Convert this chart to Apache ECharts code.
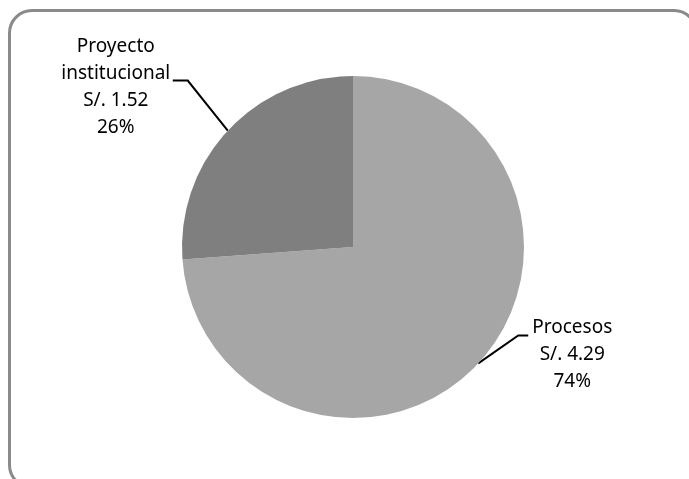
<!DOCTYPE html>
<html>
<head>
<meta charset="utf-8">
<script src="https://cdn.jsdelivr.net/npm/echarts@6/dist/echarts.min.js"></script>
<style>
  html, body { margin: 0; padding: 0; width: 689px; height: 479px; overflow: hidden; background: #fff; }
  .frame {
    position: absolute; left: 8px; top: 9px; width: 690px; height: 480px;
    border: 3px solid #8a8a8a; border-radius: 24px; box-sizing: border-box;
  }
  #chart { position: absolute; left: 0; top: 0; width: 689px; height: 479px; }
</style>
</head>
<body>
<div class="frame"></div>
<div id="chart"></div>
<script>
// 数据
const categories = ['Procesos', 'Proyecto\ninstitucional']
const amounts = [4.29, 1.52]
const sliceColors = ['#a6a6a6', '#7f7f7f']

// 引导线偏移 (相对于扇区边缘点)
const leaderBend = [[40, -28], [-40, -50]]
const leaderTail = [[10, 0], [-15, 0]]
const labelShift = [[44, -21], [-57, -47]]

const chart = echarts.init(document.getElementById('chart'))

const option = {
  animation: false,
  series: [
    {
      type: 'pie',
      center: [353, 247],
      radius: 171,
      startAngle: 90,
      clockwise: true,
      avoidLabelOverlap: false,
      silent: true,
      data: categories.map((name, i) => ({
        name: name,
        value: amounts[i],
        itemStyle: { color: sliceColors[i] },
      })),
      label: {
        show: true,
        position: 'outside',
        formatter: (p) => `${p.name}\nS/. ${p.value.toFixed(2)}\n${Math.round(p.percent)}%`,
        fontFamily: '"Noto Sans", sans-serif',
        fontSize: 19,
        lineHeight: 27,
        color: '#000',
      },
      labelLine: {
        show: true,
        length: 40,
        length2: 12,
        lineStyle: { color: '#000', width: 2 },
      },
      labelLayout: (params) => {
        const i = params.dataIndex
        const p0 = params.labelLinePoints[0]
        const p1 = [p0[0] + leaderBend[i][0], p0[1] + leaderBend[i][1]]
        const p2 = [p1[0] + leaderTail[i][0], p1[1] + leaderTail[i][1]]
        return {
          x: p2[0] + labelShift[i][0],
          y: p2[1] + labelShift[i][1],
          align: 'center',
          verticalAlign: 'top',
          labelLinePoints: [p0, p1, p2],
        }
      },
    },
  ],
}

chart.setOption(option)
</script>
</body>
</html>
